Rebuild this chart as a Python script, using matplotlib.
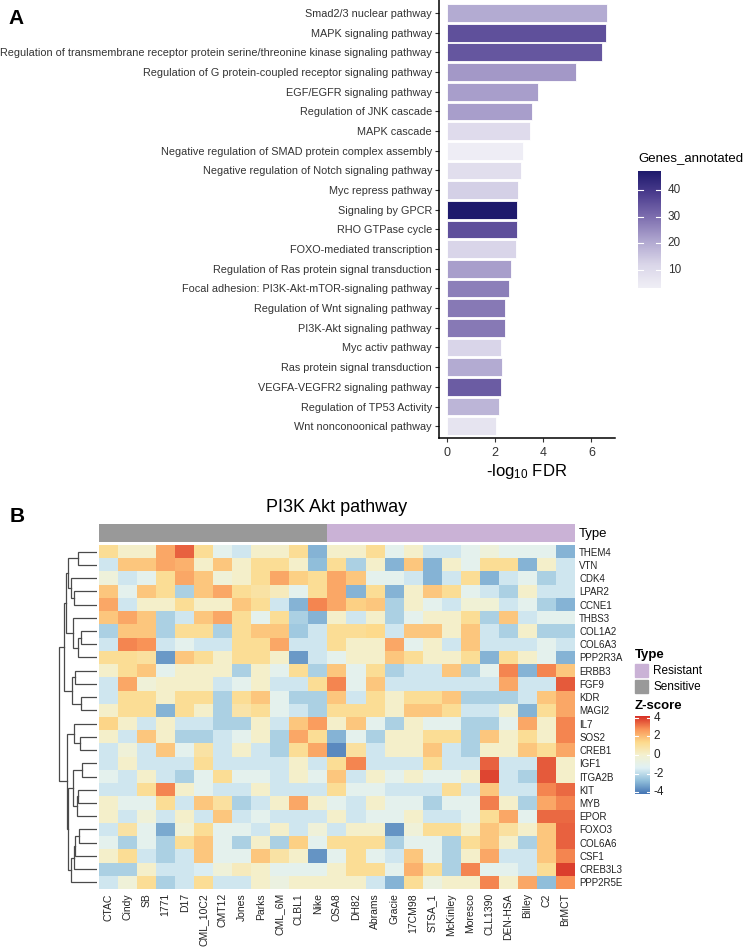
import matplotlib
matplotlib.use('Agg')
import matplotlib.pyplot as plt
import numpy as np
from matplotlib.colors import LinearSegmentedColormap, ListedColormap, Normalize

plt.rcParams['font.family'] = ['Liberation Sans', 'DejaVu Sans']
plt.rcParams['axes.unicode_minus'] = False
plt.rcParams['mathtext.fontset'] = 'custom'
plt.rcParams['mathtext.rm'] = 'Liberation Sans'
plt.rcParams['mathtext.default'] = 'regular'

# ---- panel A data ----
pathways = [
    'Smad2/3 nuclear pathway',
    'MAPK signaling pathway',
    'Regulation of transmembrane receptor protein serine/threonine kinase signaling pathway',
    'Regulation of G protein-coupled receptor signaling pathway',
    'EGF/EGFR signaling pathway',
    'Regulation of JNK cascade',
    'MAPK cascade',
    'Negative regulation of SMAD protein complex assembly',
    'Negative regulation of Notch signaling pathway',
    'Myc repress pathway',
    'Signaling by GPCR',
    'RHO GTPase cycle',
    'FOXO-mediated transcription',
    'Regulation of Ras protein signal transduction',
    'Focal adhesion: PI3K-Akt-mTOR-signaling pathway',
    'Regulation of Wnt signaling pathway',
    'PI3K-Akt signaling pathway',
    'Myc activ pathway',
    'Ras protein signal transduction',
    'VEGFA-VEGFR2 signaling pathway',
    'Regulation of TP53 Activity',
    'Wnt nonconoonical pathway',
]
fdr = [6.65, 6.59, 6.45, 5.37, 3.80, 3.55, 3.47, 3.17, 3.07, 2.96, 2.91, 2.91,
       2.85, 2.64, 2.58, 2.41, 2.41, 2.26, 2.27, 2.25, 2.15, 2.02]
genes = [20, 35, 34, 23, 22, 22, 10, 4, 9, 13, 47, 35, 12, 22, 27, 28, 28, 12,
         20, 33, 18, 7]

# ---- panel B data ----
genes_b = ['THEM4', 'VTN', 'CDK4', 'LPAR2', 'CCNE1', 'THBS3', 'COL1A2', 'COL6A3',
           'PPP2R3A', 'ERBB3', 'FGF9', 'KDR', 'MAGI2', 'IL7', 'SOS2', 'CREB1',
           'IGF1', 'ITGA2B', 'KIT', 'MYB', 'EPOR', 'FOXO3', 'COL6A6', 'CSF1',
           'CREB3L3', 'PPP2R5E']
samples = ['CTAC', 'Cindy', 'SB', '1771', 'D17', 'CML_10C2', 'CMT12', 'Jones',
           'Parks', 'CML_6M', 'CLBL1', 'Nike', 'OSA8', 'DH82', 'Abrams', 'Gracie',
           '17CM98', 'STSA_1', 'McKinley', 'Moresco', 'CLL1390', 'DEN-HSA',
           'Billey', 'C2', 'BrMCT']
sample_type = ['Sensitive'] * 12 + ['Resistant'] * 13

zscore = [
    [1.2, 0.1, 0.1, 2.4, 3.5, 1.2, -1.1, -1.7, 0.1, 0.1, 1.2, -3.0, 0.1, 0.1, 1.2, -1.1, 0.1, -1.7, -1.7, -1.1, -0.4, -1.1, -1.1, -1.1, -3.0],
    [-1.7, 1.8, 1.8, 2.4, 2.2, 0.1, 1.8, 0.1, 1.2, 1.2, 0.1, -2.8, 1.2, -2.3, 0.1, -3.0, 1.8, -3.0, 0.1, -1.1, 1.2, 1.2, -3.0, 0.1, -1.7],
    [-0.4, -1.7, -1.1, 1.2, 2.4, 1.8, -0.3, 0.1, 1.2, 2.4, 1.6, 1.2, 2.4, 1.8, -1.1, -1.1, -1.7, -3.0, -1.7, 1.2, -3.0, -1.7, -1.1, -2.3, -1.7],
    [1.8, -1.1, 1.8, 1.2, -2.3, 1.8, 2.4, 1.2, 0.9, 0.4, -1.1, 1.2, 2.4, -3.0, 1.2, -3.0, 0.1, 1.8, 1.2, -1.1, -1.7, -2.3, 0.1, -1.7, -1.7],
    [2.4, -1.7, 0.1, 0.1, 1.2, 0.1, 0.1, 1.8, 1.2, -1.7, -3.0, 3.0, 2.4, 1.6, 1.8, -2.3, 0.1, -1.1, -1.7, -0.2, -0.2, -1.7, -1.1, -2.3, -3.0],
    [1.8, 2.4, 1.8, -2.3, -1.7, 1.8, 2.4, 1.2, -1.1, 1.2, -2.3, -3.0, 0.1, -1.7, 0.1, -2.3, -1.1, 0.1, 0.1, 1.2, -2.3, 1.8, -1.7, -1.1, -1.1],
    [-2.3, 1.8, 1.8, -2.3, 1.2, 1.2, -2.3, 1.2, 1.8, 1.8, -2.5, -1.7, 1.2, 1.2, 1.4, -1.7, 1.8, 1.8, 0.1, 1.8, -1.7, -2.3, 0.1, -2.3, -2.3],
    [-1.7, 3.0, 2.8, -1.7, -1.1, -1.7, -1.7, 1.2, 1.2, 2.4, -1.7, -1.7, 1.2, 0.1, 0.1, 2.4, -1.1, 0.1, -1.7, 1.8, -1.7, -1.7, -1.7, -1.1, -1.7],
    [1.2, 1.2, 1.0, -3.5, 1.8, 1.2, 0.1, 1.2, 1.2, 0.1, -3.5, -1.7, -1.1, 0.1, 0.1, 1.8, 1.2, 0.1, 0.1, 1.2, -3.0, 1.2, 0.1, -1.1, -3.0],
    [0.1, 1.2, 1.8, -1.1, 0.1, 0.1, 0.1, -2.3, 0.1, -1.1, 1.2, -2.3, 1.8, -1.1, 1.2, -2.3, -1.7, -1.7, 1.8, -2.3, -1.1, 3.0, -3.0, 3.0, 1.8],
    [-1.7, 2.4, -0.3, 0.1, 0.1, 0.1, -1.7, -1.1, 0.1, -1.7, -1.7, 1.2, 3.0, -1.1, 1.8, -1.7, -1.7, -1.7, -1.7, -1.7, -1.7, 2.4, -1.7, -1.7, 3.6],
    [-1.7, 1.2, 1.2, 0.1, 1.2, 1.2, -2.3, 1.2, 1.8, -1.1, -2.3, -2.3, 1.8, -1.7, 1.2, 0.1, 1.2, 1.2, 1.8, -2.3, -2.3, -2.3, -1.7, 1.8, 2.4],
    [0.1, 1.2, 1.2, -3.0, 1.2, 0.1, -2.3, 0.8, 1.2, -1.1, -1.7, -2.3, 1.2, 1.2, 1.2, 0.1, 1.8, 1.8, 1.2, -1.7, -1.7, 0.1, -3.0, 1.2, 2.4],
    [1.5, 0.1, -1.7, 0.1, -1.7, -1.7, -2.3, -2.3, 0.1, -1.7, 1.8, 2.6, 0.1, 1.8, -1.1, -2.3, 0.1, -1.1, -1.1, -2.3, -2.3, -1.1, 2.4, 0.1, 3.0],
    [0.1, -1.7, 1.8, 0.1, -2.3, -2.3, -1.7, -1.1, 0.1, -2.3, 2.4, 1.2, -3.0, -1.1, -2.3, 0.1, 0.1, 1.2, 1.2, -2.3, 1.8, 0.1, 1.2, 0.1, 3.0],
    [-1.7, -0.3, -1.7, 1.8, -1.1, 0.9, -1.7, 0.1, -1.7, -2.3, 1.2, 2.4, -3.8, 1.0, -1.7, 0.1, 0.1, 1.8, -1.7, -2.3, 0.1, 0.1, 1.8, 1.2, 2.4],
    [-1.7, 0.1, -1.7, -1.7, -1.7, 1.2, -1.7, -1.7, -1.7, -1.7, 0.1, -1.7, 1.2, 3.0, -1.7, -1.7, -1.7, 1.2, -1.7, -1.7, 3.5, -1.7, -1.7, 3.6, 0.1],
    [-1.1, -1.7, 0.1, -1.7, -2.3, -1.1, 1.2, -1.1, -1.1, -1.7, 0.1, -1.1, 1.8, -1.7, 0.1, -1.1, 0.1, -1.1, -1.1, 0.1, 3.9, -1.7, -2.3, 3.6, 0.1],
    [-1.7, -1.7, 1.2, 3.0, 0.1, -1.1, -1.7, -1.7, 0.1, -1.7, -1.7, -1.7, 1.2, -1.1, -1.1, -1.7, -1.7, -1.7, 1.2, -1.7, 1.8, -1.7, -1.7, 3.0, 3.4],
    [0.1, -1.1, -1.1, 1.2, -1.7, 1.8, 1.0, -2.3, -1.7, 0.1, 2.4, 0.1, -1.1, -1.7, 0.1, -1.1, -1.1, -2.3, -1.1, -1.1, 3.1, 0.1, -2.3, 2.4, 3.0],
    [0.1, -1.7, -0.3, -1.7, 0.1, -1.7, 1.8, -1.7, -1.1, -1.7, -1.7, -1.7, 0.1, -1.7, -1.1, -1.1, 0.1, -1.7, -1.7, -1.1, 1.2, 2.4, -1.1, 3.4, 3.4],
    [-1.7, 0.9, -1.1, -3.2, -0.3, 1.2, -1.1, -1.1, -1.7, 0.1, -1.7, -0.3, -1.7, 0.1, 0.1, -3.6, -0.3, 1.2, 1.2, 0.1, 1.8, 1.0, 0.1, 1.8, 3.5],
    [-1.1, -2.3, -1.1, -2.3, 1.2, 1.8, -1.1, -2.3, 0.1, -2.3, 1.6, -1.1, 1.2, 1.2, 1.2, -2.3, -1.1, -1.1, -2.3, 1.2, 1.8, 0.1, -2.3, 1.8, 3.5],
    [0.1, 1.2, -1.7, -2.3, -1.7, 1.8, -1.1, -1.1, 1.8, 0.9, 0.1, -3.6, -1.1, 1.2, -1.1, -1.7, 1.8, -1.1, -2.3, 0.1, 2.4, -1.7, -1.7, 1.8, 3.0],
    [-2.3, -2.3, 0.1, -1.7, -1.7, -1.5, -0.3, 0.4, 0.1, -1.1, -1.1, -1.1, 0.1, 1.2, 1.2, -1.1, 2.2, 1.2, -2.3, 3.0, -1.1, -1.1, -1.7, 1.2, 4.0],
    [-1.7, -0.3, 1.2, -2.3, -1.7, 1.2, -1.7, -1.7, 0.1, -0.6, 0.1, 0.1, 0.1, 0.1, -1.7, -3.0, 1.2, -0.6, 0.1, 0.1, 3.0, 0.1, 2.4, -2.8, 2.8],
]

# row dendrogram: (left, right, merge height), leaves = row index
row_tree = (
    ((((0, 1, 19), (2, (3, 4, 23), 26), 29),
      (5, ((6, 7, 16), 8, 19), 24), 31),
     ((9, 10, 22), (11, 12, 16), 25), 33),
    ((13, (14, 15, 17), 23),
     (((16, 17, 15), ((18, 19, 19), 20, 20), 24),
      ((((21, 22, 18), 23, 22), 24, 23.5), 25, 26), 29), 30),
    38)

W, H = 750, 949
fig = plt.figure(figsize=(7.5, 9.49), dpi=100)


def box(x0, y0, x1, y1):
    # pixel box (top-left origin) -> figure fraction
    return [x0 / W, 1 - y1 / H, (x1 - x0) / W, (y1 - y0) / H]


txt = '#333333'

# ================= Panel A =================
ax = fig.add_axes(box(439, 0, 615, 438))
cmapA = LinearSegmentedColormap.from_list(
    'genes', ['#F0EFF6', '#DAD6E9', '#B0A7D0', '#7F70B0', '#4E3F90', '#1E1A6C'])
normA = Normalize(3, 47)
ypos = np.arange(len(pathways))[::-1]
ax.barh(ypos, fdr, height=0.9, color=cmapA(normA(np.array(genes))),
        edgecolor='white', linewidth=0.6)
ax.set_xlim(-0.33, 6.98)
ax.set_ylim(-0.6, 21.66)
ax.set_yticks(ypos)
ax.set_yticklabels(pathways, fontsize=7.85, color=txt)
ax.set_xticks([0, 2, 4, 6])
ax.tick_params(axis='x', labelsize=9, colors=txt, length=3)
ax.tick_params(axis='y', length=3, colors=txt, pad=2)
for s in ['top', 'right']:
    ax.spines[s].set_visible(False)
for s in ['left', 'bottom']:
    ax.spines[s].set_linewidth(1.1)
ax.set_xlabel('-log$_{10}$ FDR', fontsize=12, labelpad=2)

# colourbar A
cax = fig.add_axes(box(638, 171, 661, 288))
grad = np.linspace(3.1, 47.2, 200).reshape(-1, 1)
cax.imshow(grad, aspect='auto', origin='lower', cmap=cmapA, norm=normA,
           extent=[0, 1, 3.1, 47.2])
for v in [10, 20, 30, 40]:
    cax.plot([0, 0.2], [v, v], color='white', lw=0.8)
    cax.plot([0.8, 1], [v, v], color='white', lw=0.8)
    cax.text(1.3, v, str(v), va='center', ha='left', fontsize=8.5, color=txt)
cax.set_xlim(0, 1)
cax.set_ylim(3.1, 47.2)
cax.axis('off')
fig.text(638 / W, 1 - 158 / H, 'Genes_annotated', fontsize=9.5, va='center', ha='left')

fig.text(8 / W, 1 - 18 / H, 'A', fontsize=15, fontweight='bold', va='center', ha='left')

# ================= Panel B =================
Z = np.array(zscore)
cmapB = LinearSegmentedColormap.from_list(
    'rdylbu', ['#4575B4', '#91BFDB', '#E0F1F5', '#F4F1D0', '#FDDA8C', '#FA9558', '#D73027'])
normB = Normalize(-4.2, 4.2)

fig.text(10 / W, 1 - 516 / H, 'B', fontsize=15, fontweight='bold', va='center', ha='left')
fig.text(337 / W, 1 - 507 / H, 'PI3K Akt pathway', fontsize=13, va='center', ha='center')

# annotation bar
type_colors = {'Resistant': '#CAB2D6', 'Sensitive': '#999999'}
ax_ann = fig.add_axes(box(99, 524, 575, 542))
ann = np.array([[0 if t == 'Sensitive' else 1 for t in sample_type]])
ax_ann.imshow(ann, aspect='auto', interpolation='nearest',
              cmap=ListedColormap([type_colors['Sensitive'], type_colors['Resistant']]))
ax_ann.set_xticks([])
ax_ann.yaxis.tick_right()
ax_ann.set_yticks([0])
ax_ann.set_yticklabels(['Type'], fontsize=9.5)
ax_ann.tick_params(axis='y', length=0, pad=3)
for s in ax_ann.spines.values():
    s.set_visible(False)

# heatmap
ax_hm = fig.add_axes(box(99, 545, 575, 889))
ax_hm.imshow(Z, aspect='auto', interpolation='nearest', cmap=cmapB, norm=normB)
ax_hm.yaxis.tick_right()
ax_hm.set_yticks(np.arange(len(genes_b)))
ax_hm.set_yticklabels(genes_b, fontsize=7, color='#222222')
ax_hm.set_xticks(np.arange(len(samples)))
ax_hm.set_xticklabels(samples, rotation=90, fontsize=7.5, color='#222222')
ax_hm.tick_params(length=0, pad=3)
for s in ax_hm.spines.values():
    s.set_visible(False)

# dendrogram
ax_d = fig.add_axes(box(58, 545, 97, 889))


def draw(node):
    if isinstance(node, int):
        return node, 0
    a, b, h = node
    ya, ha = draw(a)
    yb, hb = draw(b)
    ax_d.plot([ha, h, h, hb], [ya, ya, yb, yb], color='#4a4a4a', lw=0.9,
              solid_joinstyle='miter')
    return (ya + yb) / 2, h


draw(row_tree)
ax_d.set_ylim(len(genes_b) - 0.5, -0.5)
ax_d.set_xlim(39, 0)
ax_d.axis('off')

# legends for panel B
fig.text(635 / W, 1 - 655 / H, 'Type', fontsize=9.5, fontweight='bold', va='center', ha='left')
for i, t in enumerate(['Resistant', 'Sensitive']):
    y0 = 664 + i * 16
    fig.patches.append(plt.Rectangle((635 / W, 1 - (y0 + 13) / H), 13 / W, 13 / H,
                                     transform=fig.transFigure, color=type_colors[t]))
    fig.text(653 / W, 1 - (y0 + 6.5) / H, t, fontsize=8.5, va='center', ha='left')

fig.text(635 / W, 1 - 706 / H, 'Z-score', fontsize=9.5, fontweight='bold', va='center', ha='left')
zax = fig.add_axes(box(635, 716, 650, 794))
zgrad = np.linspace(-4.2, 4.2, 200).reshape(-1, 1)
zax.imshow(zgrad, aspect='auto', origin='lower', cmap=cmapB, norm=normB,
           extent=[0, 1, -4.2, 4.2])
for v in [-4, -2, 0, 2, 4]:
    zax.plot([0, 0.2], [v, v], color='white', lw=0.8)
    zax.plot([0.8, 1], [v, v], color='white', lw=0.8)
    zax.text(1.25, v, str(v), va='center', ha='left', fontsize=8.5, color='#222222')
zax.set_xlim(0, 1)
zax.set_ylim(-4.2, 4.2)
zax.axis('off')

fig.savefig('out.png', dpi=100)
